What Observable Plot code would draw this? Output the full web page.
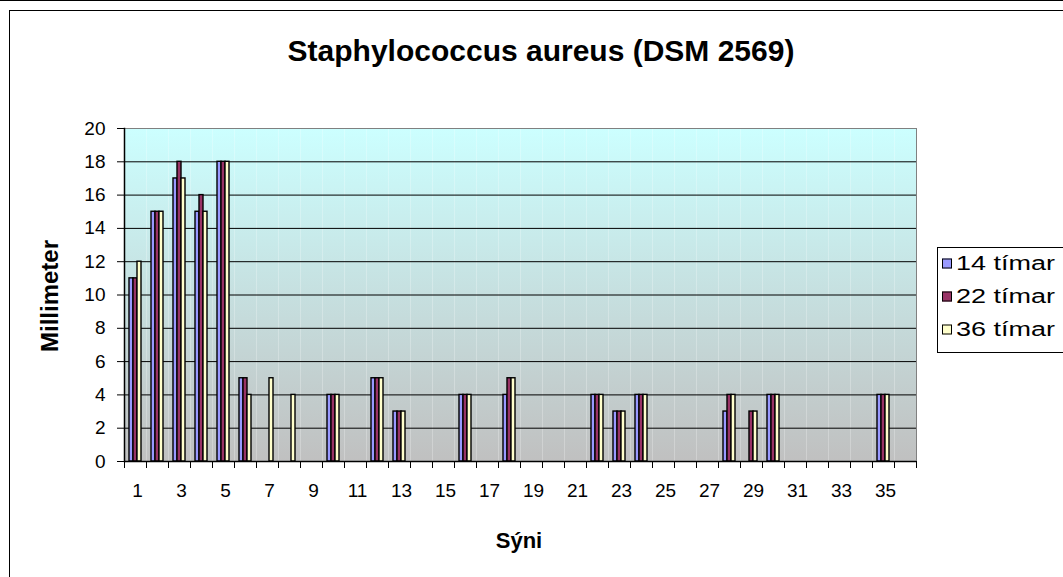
<!DOCTYPE html>
<html>
<head>
<meta charset="utf-8">
<script src="https://cdn.jsdelivr.net/npm/d3@7"></script>
<script src="https://cdn.jsdelivr.net/npm/@observablehq/plot@0.6"></script>
<style>
  html, body { margin: 0; padding: 0; background: #fff; }
  #wrap { position: relative; width: 1063px; height: 577px; overflow: hidden; font-family: "Liberation Sans", Arial, sans-serif; }
  #topline { position: absolute; left: 0; top: 0; width: 1063px; height: 0; border-top: 1px solid #000; }
  #box { position: absolute; left: 9px; top: 10px; width: 1100px; height: 700px; border: 1px solid #000; box-sizing: border-box; }
  #chart { position: absolute; left: 0; top: 0; }
  .title { position: absolute; left: 0; width: 1082px; text-align: center; font-weight: bold; white-space: nowrap; }
  #ylab { position: absolute; left: 50px; top: 296px; font-weight: bold; font-size: 24px; transform: translate(-50%, -50%) rotate(-90deg); white-space: nowrap; }
  #xlab { position: absolute; left: 519px; top: 541px; font-weight: bold; font-size: 22px; transform: translate(-50%, -50%); white-space: nowrap; }
  #legend { position: absolute; left: 937px; top: 247px; width: 160px; height: 106px; border: 1px solid #000; background: #fff; box-sizing: border-box; }
  .item { position: absolute; left: 4px; font-size: 20px; white-space: nowrap; transform: translateY(-50%); display: flex; align-items: center; }
  .sw { width: 8px; height: 8px; border: 1px solid #000; margin-right: 4px; }
  .item span { display: inline-block; transform: scaleX(1.35); transform-origin: left center; }
</style>
</head>
<body>
<div id="wrap">
  <div id="topline"></div>
  <div id="box"></div>
  <div id="chart"></div>
  <div class="title" id="title" style="top:34px; font-size:30px;">Staphylococcus aureus (DSM 2569)</div>
  <div id="ylab">Millimeter</div>
  <div id="xlab">Sýni</div>
  <div id="legend"></div>
</div>
<script>
// Categories (sample numbers)
const categories = [1,2,3,4,5,6,7,8,9,10,11,12,13,14,15,16,17,18,19,20,21,22,23,24,25,26,27,28,29,30,31,32,33,34,35,36];
// Series
const seriesNames = ["14 tímar", "22 tímar", "36 tímar"];
const seriesColors = ["#9999FF", "#993366", "#FFFFCC"];
const values14 = [11,15,17,15,18,5,0,0,0,4,0,5,3,0,0,4,0,4,0,0,0,4,3,4,0,0,0,3,0,4,0,0,0,0,4,0];
const values22 = [11,15,18,16,18,5,0,0,0,4,0,5,3,0,0,4,0,5,0,0,0,4,3,4,0,0,0,4,3,4,0,0,0,0,4,0];
const values36 = [12,15,17,15,18,4,5,4,0,4,0,5,3,0,0,4,0,5,0,0,0,4,3,4,0,0,0,4,3,4,0,0,0,0,4,0];
const yTicks = [0,2,4,6,8,10,12,14,16,18,20];
const xTickLabels = ["1","3","5","7","9","11","13","15","17","19","21","23","25","27","29","31","33","35"];

const allValues = [values14, values22, values36];
const data = [];
seriesNames.forEach((s, si) => {
  categories.forEach((c, ci) => {
    data.push({cat: c, series: s, value: allValues[si][ci]});
  });
});

const W = 1063, H = 577;
const plotH = 461 - 128;
const plot = Plot.plot({
  width: W, height: H,
  marginLeft: 124, marginRight: W - 916, marginTop: 128, marginBottom: H - 461,
  style: {fontFamily: "'Liberation Sans', Arial, sans-serif", fontSize: "19px", background: "transparent", color: "#000", overflow: "visible"},
  fx: {domain: categories, padding: 0, label: null, axis: null},
  x: {domain: seriesNames, paddingInner: 0, paddingOuter: 0.75, axis: null},
  y: {domain: [0, 20], axis: null},
  color: {domain: seriesNames, range: seriesColors},
  marks: [
    Plot.frame({fill: "url(#plotGrad)", stroke: null}),
    Plot.gridY(yTicks.filter(d => d > 0), {stroke: "#000", strokeOpacity: 1, strokeWidth: 1}),
    Plot.frame({anchor: "top", stroke: "#808080"}),
    Plot.frame({anchor: "right", stroke: "#808080", facetAnchor: "right"}),
    Plot.barY(data, {fx: "cat", x: "series", y: "value", fill: "series", stroke: d => d.value > 0 ? "#000" : "none", strokeWidth: 1.4, inset: 0}),
    Plot.ruleY([0], {stroke: "#000", strokeWidth: 1.5}),
    Plot.frame({anchor: "left", stroke: "#000", strokeWidth: 1.5, facetAnchor: "left"}),
    // category boundary tick marks below the x axis
    Plot.frame({anchor: "left", stroke: "#000", strokeWidth: 1, insetTop: plotH, insetBottom: -6}),
    Plot.frame({anchor: "right", stroke: "#000", strokeWidth: 1, insetTop: plotH, insetBottom: -6, facetAnchor: "right"}),
    Plot.axisY(yTicks, {anchor: "left", tickSize: 7, tickPadding: 12, label: null, fontSize: 19}),
    Plot.text(xTickLabels, {fx: d => +d, text: d => d, frameAnchor: "bottom", dy: 35, dx: 2, fontSize: 19})
  ]
});

const svg = d3.select(plot);
const defs = svg.insert("defs", ":first-child");
const grad = defs.append("linearGradient").attr("id", "plotGrad").attr("x1", 0).attr("y1", 0).attr("x2", 0).attr("y2", 1);
grad.append("stop").attr("offset", "0%").attr("stop-color", "#CCFFFF");
grad.append("stop").attr("offset", "100%").attr("stop-color", "#C0C0C0");

document.getElementById("chart").appendChild(plot);

// Legend
const legend = document.getElementById("legend");
const ys = [15, 48, 81];
seriesNames.forEach((s, i) => {
  const item = document.createElement("div");
  item.className = "item";
  item.style.top = ys[i] + "px";
  const sw = document.createElement("div");
  sw.className = "sw";
  sw.style.background = seriesColors[i];
  item.appendChild(sw);
  const t = document.createElement("span");
  t.textContent = s;
  item.appendChild(t);
  legend.appendChild(item);
});
</script>
</body>
</html>
